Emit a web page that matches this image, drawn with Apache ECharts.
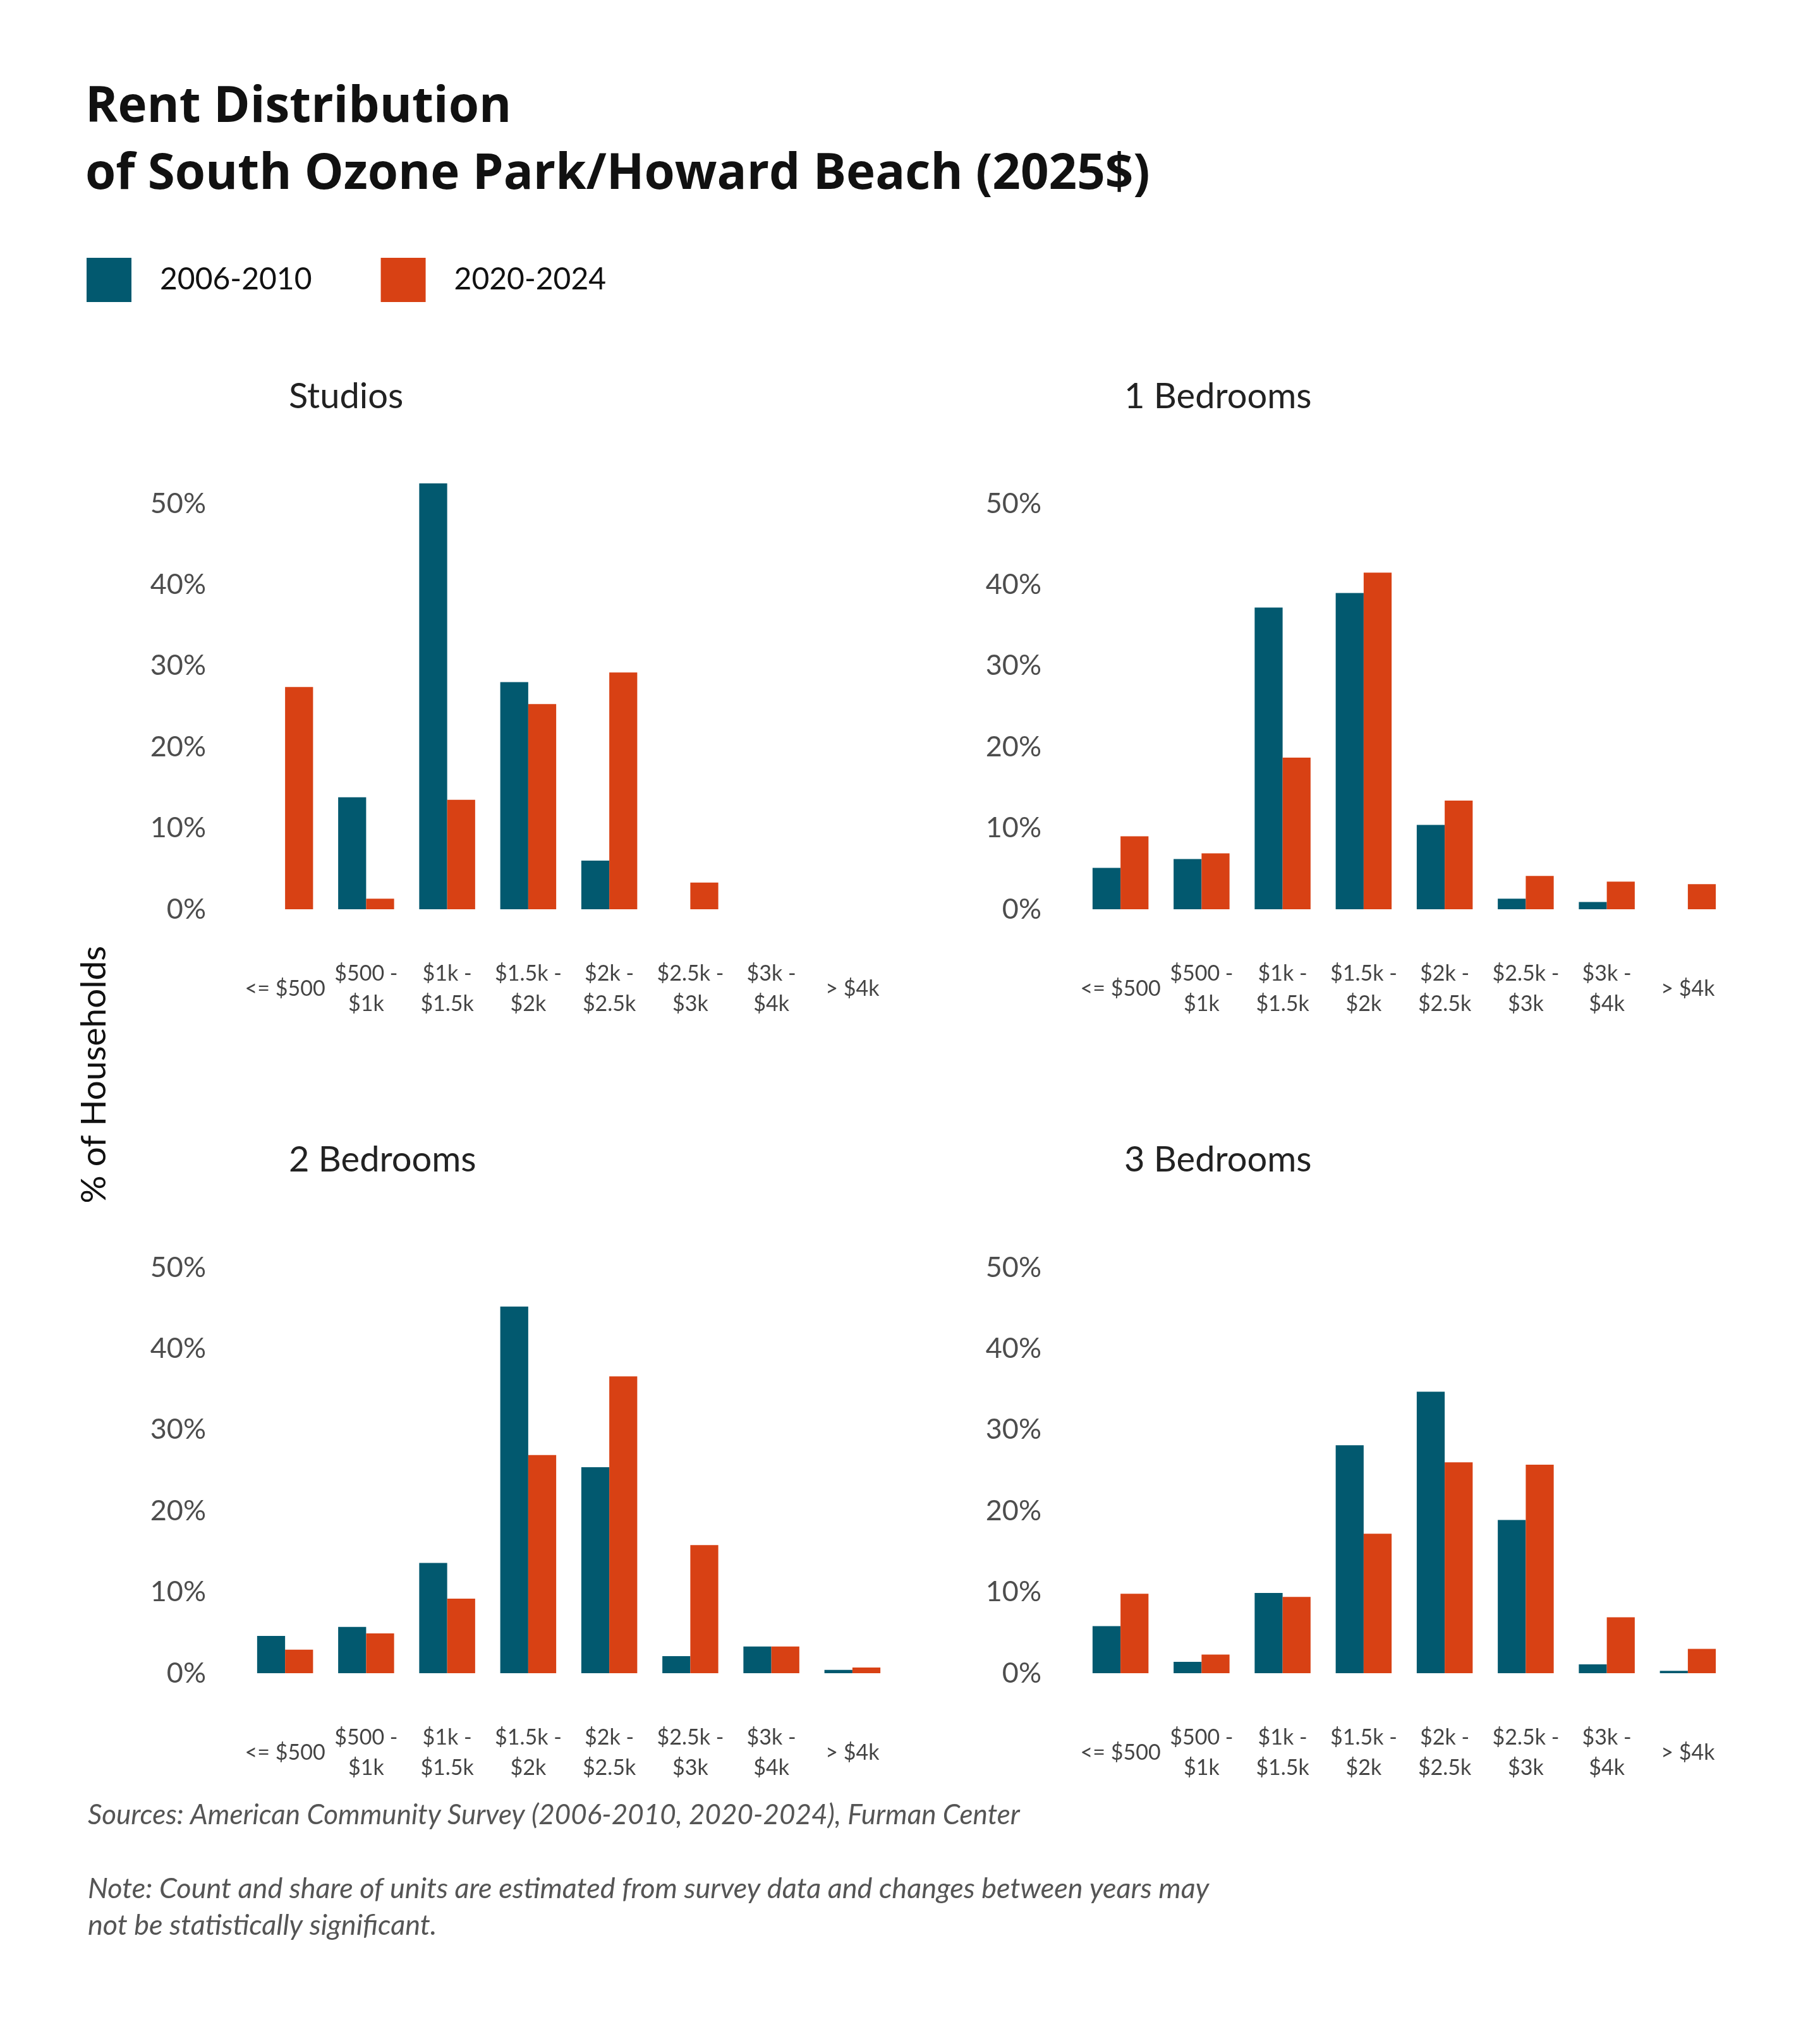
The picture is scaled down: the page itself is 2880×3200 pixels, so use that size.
<!DOCTYPE html>
<html>
<head>
<meta charset="UTF-8">
<title>Rent Distribution</title>
<script src="https://cdn.jsdelivr.net/npm/echarts@6/dist/echarts.min.js"></script>
<style>
  html, body { margin: 0; padding: 0; background: #fff; }
  #main { width: 2880px; height: 3200px; }
</style>
</head>
<body>
<div id="main"></div>
<script>
// rent buckets
var categories = ['<= $500', '$500 -\n$1k', '$1k -\n$1.5k', '$1.5k -\n$2k', '$2k -\n$2.5k', '$2.5k -\n$3k', '$3k -\n$4k', '> $4k'];
var periods = ['2006-2010', '2020-2024'];
var panelNames = ['Studios', '1 Bedrooms', '2 Bedrooms', '3 Bedrooms'];

// % of households
var studios2006 = [0, 13.8, 52.5, 28.0, 6.0, 0, 0, 0];
var studios2020 = [27.4, 1.3, 13.5, 25.3, 29.2, 3.3, 0, 0];
var oneBed2006 = [5.1, 6.2, 37.2, 39.0, 10.4, 1.3, 0.9, 0];
var oneBed2020 = [9.0, 6.9, 18.7, 41.5, 13.4, 4.1, 3.4, 3.1];
var twoBed2006 = [4.6, 5.7, 13.6, 45.2, 25.4, 2.1, 3.3, 0.4];
var twoBed2020 = [2.9, 4.9, 9.2, 26.9, 36.6, 15.8, 3.3, 0.7];
var threeBed2006 = [5.8, 1.4, 9.9, 28.1, 34.7, 18.9, 1.1, 0.3];
var threeBed2020 = [9.8, 2.3, 9.4, 17.2, 26.0, 25.7, 6.9, 3.0];

var yTicks = [0, 10, 20, 30, 40, 50];

var colors = ['#02596F', '#D84114'];
var font = 'Lato';

var panelData = [
  [studios2006, studios2020],
  [oneBed2006, oneBed2020],
  [twoBed2006, twoBed2020],
  [threeBed2006, threeBed2020]
];
var grids = [
  {left: 387, top: 733, width: 1026, height: 706},
  {left: 1709, top: 733, width: 1026, height: 706},
  {left: 387, top: 1942, width: 1026, height: 706},
  {left: 1709, top: 1942, width: 1026, height: 706}
];
var panelTitlePos = [[452, 595], [1774, 595], [452, 1803], [1774, 1803]];

var titles = [
  {
    text: 'Rent Distribution\nof South Ozone Park/Howard Beach (2025$)',
    left: 130, top: 113,
    textStyle: {fontFamily: 'Open Sans', fontWeight: 'bold', fontSize: 78, lineHeight: 106, color: '#111'}
  },
  {
    text: 'Sources: American Community Survey (2006-2010, 2020-2024), Furman Center',
    left: 134, top: 2846,
    textStyle: {fontFamily: font, fontStyle: 'italic', fontWeight: 'normal', fontSize: 44, color: '#555'}
  },
  {
    text: 'Note: Count and share of units are estimated from survey data and changes between years may\nnot be statistically significant.',
    left: 134, top: 2955,
    textStyle: {fontFamily: font, fontStyle: 'italic', fontWeight: 'normal', fontSize: 45, lineHeight: 58, color: '#555'}
  }
];
for (var i = 0; i < panelNames.length; i++) {
  titles.push({
    text: panelNames[i],
    left: panelTitlePos[i][0], top: panelTitlePos[i][1],
    textStyle: {fontFamily: font, fontWeight: 'normal', fontSize: 56, color: '#222'}
  });
}

var xAxes = [], yAxes = [], series = [];
for (var g = 0; g < grids.length; g++) {
  xAxes.push({
    type: 'category', gridIndex: g, data: categories,
    axisLine: {show: false}, axisTick: {show: false},
    axisLabel: {
      interval: 0, margin: 126, verticalAlign: 'middle',
      fontFamily: font, fontSize: 34, lineHeight: 48, color: '#444'
    }
  });
  yAxes.push({
    type: 'value', gridIndex: g, min: yTicks[0], max: 55, interval: yTicks[1] - yTicks[0],
    splitLine: {show: false}, axisLine: {show: false}, axisTick: {show: false},
    axisLabel: {
      showMaxLabel: false, margin: 61,
      fontFamily: font, fontSize: 45, color: '#4d4d4d',
      formatter: function (v) { return yTicks.indexOf(v) >= 0 ? v + '%' : ''; }
    }
  });
  for (var s = 0; s < 2; s++) {
    series.push({
      name: periods[s], type: 'bar',
      xAxisIndex: g, yAxisIndex: g,
      data: panelData[g][s],
      barGap: '0%', barCategoryGap: '31%',
      itemStyle: {color: colors[s]},
      silent: true
    });
  }
}

var option = {
  backgroundColor: '#fff',
  animation: false,
  title: titles,
  legend: {
    data: periods,
    left: 132, top: 403,
    itemWidth: 71, itemHeight: 70, itemGap: 109,
    icon: 'rect',
    textStyle: {fontFamily: font, fontSize: 48, color: '#111', padding: [0, 0, 0, 40]}
  },
  grid: grids,
  xAxis: xAxes,
  yAxis: yAxes,
  series: series,
  graphic: [{
    type: 'text', left: 122, top: 1497, rotation: Math.PI / 2,
    style: {text: '% of Households', font: '55px Lato', fill: '#111'}
  }]
};

var chart = echarts.init(document.getElementById('main'));
chart.setOption(option);
</script>
</body>
</html>
